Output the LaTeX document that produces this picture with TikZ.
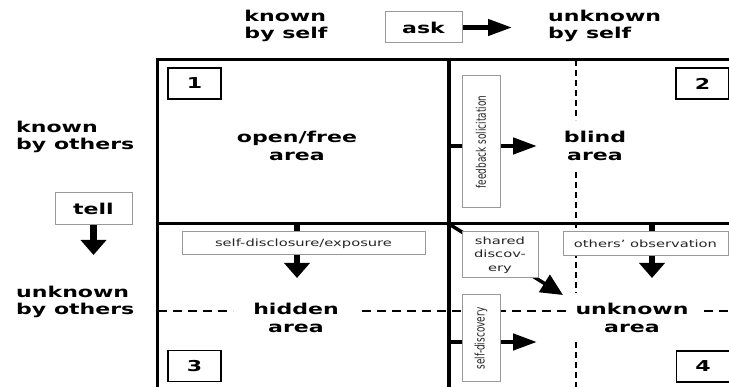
\documentclass[tikz,border=0pt]{standalone}
\usepackage{fontspec}
\setmainfont{DejaVu Sans}[FakeStretch=1.47]
\newfontfamily\narrowfont{DejaVu Sans}[FakeStretch=0.68]
\usetikzlibrary{arrows.meta}

\begin{document}
\begin{tikzpicture}[
  x=1pt, y=-1pt,
  grid/.style={line width=3.5pt},
  divider/.style={line width=2pt, dash pattern=on 9pt off 6pt},
  vdivider/.style={line width=2.5pt, dash pattern=on 6pt off 4pt},
  head/.style={font=\bfseries\fontsize{15}{17.5}\selectfont, align=left, inner sep=0pt},
  area/.style={font=\bfseries\fontsize{15}{17.5}\selectfont, align=center, inner sep=0pt},
  num/.style={draw, line width=1.5pt, minimum width=53pt, minimum height=31pt, inner sep=0pt, font=\bfseries\fontsize{15}{17}\selectfont},
  tag/.style={draw=black!40, line width=1pt, fill=white, inner sep=0pt, text=black!85, align=center, font=\fontsize{10}{13.3}\selectfont},
  vtag/.style={tag, rotate=90, font=\narrowfont\fontsize{13.2}{15}\selectfont},
  keytext/.style={text=black, font=\bfseries\fontsize{15}{17}\selectfont},
  harrow/.style={-{Triangle[length=24pt,width=16pt]}, line width=4.5pt},
  varrow/.style={-{Triangle[length=15pt,width=25pt]}, line width=6.5pt}
]
\useasboundingbox (0,0) rectangle (729,387);

% arrow ends
\coordinate (fbfrom) at (449,146);
\coordinate (fbto) at (537,146);
\coordinate (sdfrom) at (297,224);
\coordinate (sdto) at (297,278);
\coordinate (obfrom) at (652,224);
\coordinate (obto) at (652,278);
\coordinate (shfrom) at (449,224);
\coordinate (shto) at (563,295);
\coordinate (dsfrom) at (449,342);
\coordinate (dsto) at (537,342);
\coordinate (askto) at (512,27.5);
\coordinate (tellto) at (93.5,255);

% window grid
\draw[grid] (157.5,58) -- (157.5,387);
\draw[grid, line width=4.5pt] (449,58) -- (449,387);
\draw[line width=3pt] (156,59.5) -- (729,59.5);
\draw[line width=3pt] (158,224) -- (729,224);
\draw[divider] (158,311) -- (233,311) (362,311) -- (566,311) (704,311) -- (729,311);
\draw[vdivider] (576,60) -- (576,120) (576,172) -- (576,293) (576,342) -- (576,387);

% arrows running under the boxes
\draw[harrow] (fbfrom) -- (fbto);
\draw[varrow] (sdfrom) -- (sdto);
\draw[varrow] (obfrom) -- (obto);
\draw[-{Triangle[length=22pt,width=20pt]}, line width=3.5pt] (shfrom) -- (shto);
\draw[harrow] (dsfrom) -- (dsto);

% process boxes
\node[vtag, minimum width=132pt, minimum height=38pt] (feedback) at (481,142) {feedback solicitation};
\node[tag, minimum width=243pt, minimum height=23pt] (disclose) at (303.5,243.5) {self-disclosure/exposure};
\node[tag, minimum width=76pt, minimum height=46pt] (shared) at (500,255) {shared\\discov-\\ery};
\node[tag, minimum width=165pt, minimum height=24pt] (observe) at (645.5,244) {others' observation};
\node[vtag, minimum width=87pt, minimum height=38pt] (discover) at (481,338.5) {self-discovery};

\node[tag, keytext, minimum width=77pt, minimum height=31pt] (ask) at (423.5,27.5) {ask};
\node[tag, keytext, minimum width=77pt, minimum height=32pt] (tell) at (93.5,209) {tell};
\draw[harrow] (ask) -- (askto);
\draw[varrow] (tell) -- (tellto);

% quadrant numbers
\node[num] (q1) at (194.5,83.5) {1};
\node[num] (q2) at (702.5,83.5) {2};
\node[num] (q3) at (194.5,366) {3};
\node[num] (q4) at (703,366.5) {4};

% headings and areas
\node[head] (kself) at (286,26) {known\\by self};
\node[head, anchor=west] (uself) at (548,26) {unknown\\by self};
\node[head, anchor=west] (kothers) at (16,137) {known\\by others};
\node[head, anchor=west] (uothers) at (16,302) {unknown\\by others};
\node[area] (open) at (297,146) {open/free\\area};
\node[area] (blind) at (595,146) {blind\\area};
\node[area] (hidden) at (296,318) {hidden\\area};
\node[area] (unknown) at (632,318) {unknown\\area};
\end{tikzpicture}
\end{document}
